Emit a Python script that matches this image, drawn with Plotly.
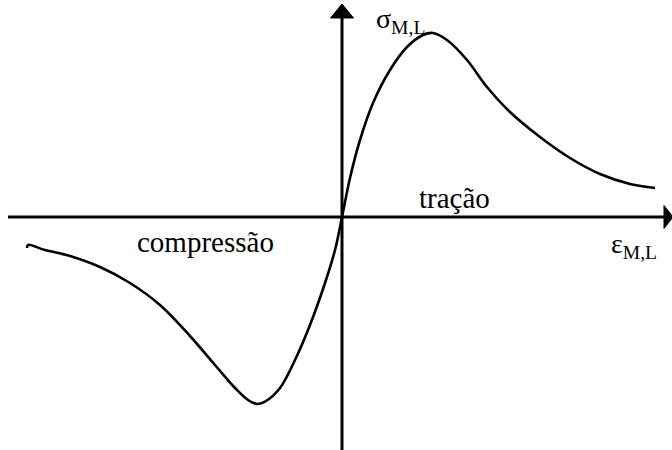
import plotly.graph_objects as go

# Stress–strain sketch of the mortar: compression branch (left) and tension branch (right)
strain = [-3.15, -3.14, -2.97, -2.72, -2.42, -2.12, -1.82, -1.52, -1.27, -1.07, -0.94,
          -0.85, -0.76, -0.62, -0.47, -0.32, -0.17, -0.07, 0.0, 0.08, 0.18, 0.31, 0.48,
          0.65, 0.81, 0.91, 1.05, 1.25, 1.45, 1.68, 1.98, 2.28, 2.58, 2.88, 3.13]
stress = [-0.31, -0.28, -0.33, -0.39, -0.50, -0.66, -0.88, -1.19, -1.48, -1.71, -1.83,
          -1.87, -1.84, -1.71, -1.43, -1.08, -0.66, -0.33, 0.0, 0.39, 0.77, 1.14, 1.47,
          1.70, 1.82, 1.84, 1.77, 1.57, 1.30, 1.05, 0.80, 0.59, 0.43, 0.33, 0.29]

x_label = "ε<sub>M,L</sub>"
y_label = "σ<sub>M,L</sub>"
region_labels = ["compressão", "tração"]

XR = [-3.42, 3.30]
YR = [-2.33, 2.17]
SERIF = "Times New Roman, Times, serif"

fig = go.Figure()
fig.add_trace(go.Scatter(
    x=strain, y=stress, mode="lines",
    line=dict(color="black", width=2.6, shape="spline", smoothing=1.0),
    hoverinfo="skip", showlegend=False,
))

shapes = [
    # horizontal axis
    dict(type="line", xref="x", yref="y", x0=-3.34, y0=0, x1=3.23, y1=0,
         line=dict(color="black", width=3)),
    dict(type="path", xref="x", yref="y", path="M 3.22,0.115 L 3.31,0 L 3.22,-0.115 Z",
         fillcolor="black", line=dict(color="black", width=1)),
    # vertical axis
    dict(type="line", xref="x", yref="y", x0=0, y0=-2.33, x1=0, y1=2.00,
         line=dict(color="black", width=3)),
    dict(type="path", xref="x", yref="y", path="M -0.115,1.99 L 0,2.13 L 0.115,1.99 Z",
         fillcolor="black", line=dict(color="black", width=1)),
]

annotations = [
    dict(x=0.32, y=1.97, text=y_label, showarrow=False, xanchor="left", yanchor="middle",
         font=dict(family=SERIF, size=28, color="black")),
    dict(x=2.67, y=-0.28, text=x_label, showarrow=False, xanchor="left", yanchor="middle",
         font=dict(family=SERIF, size=28, color="black")),
    dict(x=-1.37, y=-0.25, text=region_labels[0], showarrow=False, xanchor="center",
         yanchor="middle", font=dict(family=SERIF, size=29, color="black")),
    dict(x=1.12, y=0.19, text=region_labels[1], showarrow=False, xanchor="center",
         yanchor="middle", font=dict(family=SERIF, size=29, color="black")),
]

fig.update_layout(
    width=672, height=450,
    margin=dict(l=0, r=0, t=0, b=0),
    paper_bgcolor="white", plot_bgcolor="white",
    xaxis=dict(range=XR, visible=False, fixedrange=True),
    yaxis=dict(range=YR, visible=False, fixedrange=True),
    shapes=shapes, annotations=annotations,
    showlegend=False,
)

fig.write_html("out.html")
